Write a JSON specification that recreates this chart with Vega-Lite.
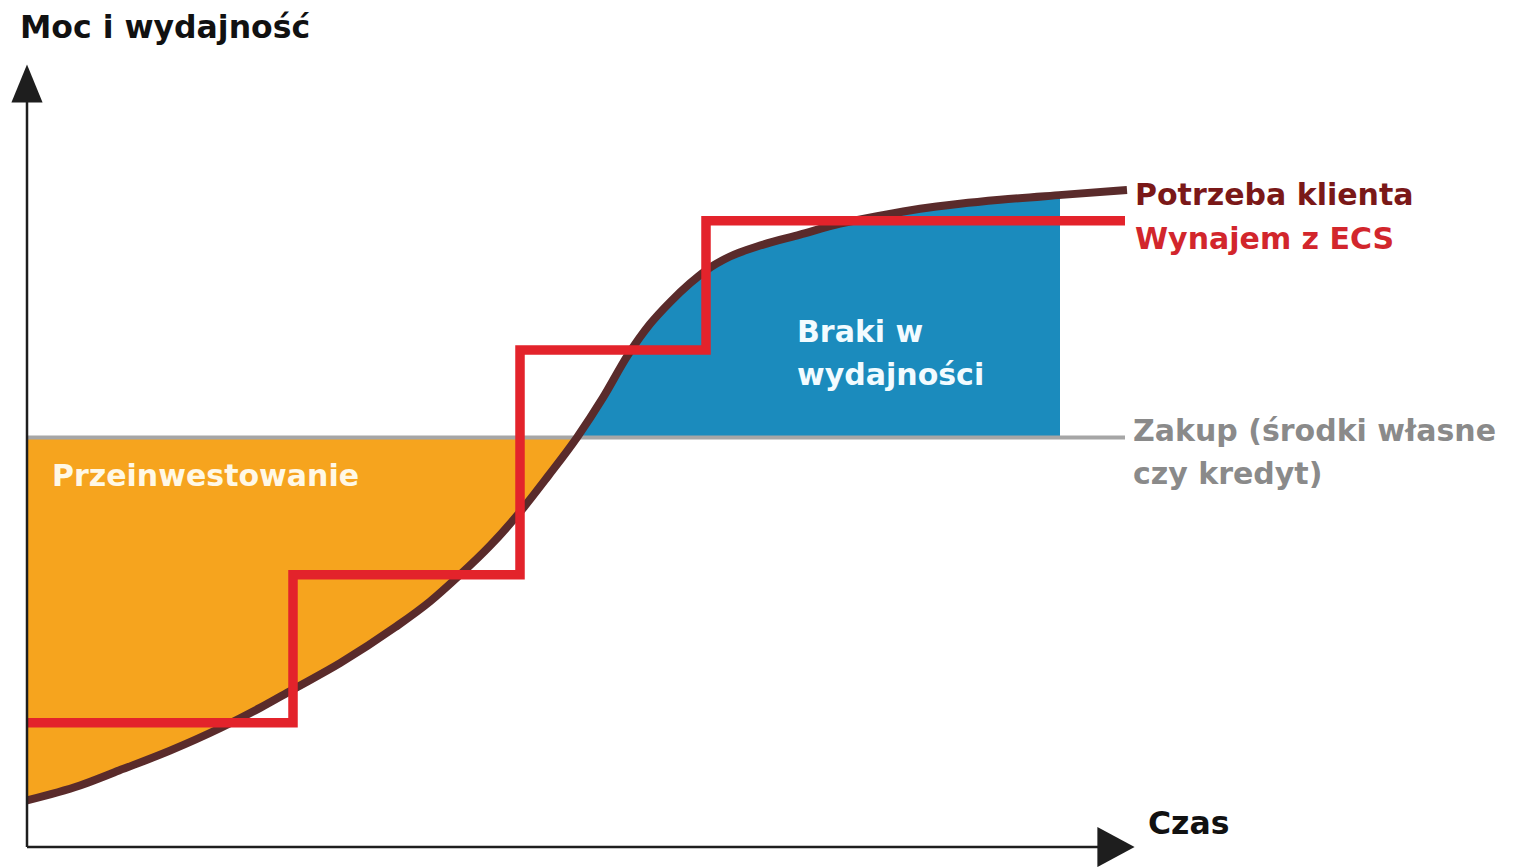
{
  "$schema": "https://vega.github.io/schema/vega-lite/v6.json",
  "width": 1520,
  "height": 867,
  "autosize": {"type": "fit", "contains": "padding"},
  "padding": 0,
  "background": "#ffffff",
  "view": {"stroke": null},
  "config": {
    "text": {"font": "DejaVu Sans", "fontWeight": "bold", "fontSize": 30, "align": "left", "baseline": "middle"}
  },
  "datasets": {
    "need": [
      {"x": 27, "v": 62}, {"x": 80, "v": 77}, {"x": 119, "v": 92}, {"x": 170, "v": 112},
      {"x": 221, "v": 135}, {"x": 260, "v": 155}, {"x": 292, "v": 173}, {"x": 340, "v": 200},
      {"x": 395, "v": 236}, {"x": 430, "v": 262}, {"x": 458, "v": 287}, {"x": 490, "v": 318},
      {"x": 520, "v": 352}, {"x": 548, "v": 388}, {"x": 577, "v": 427}, {"x": 603, "v": 467},
      {"x": 628, "v": 510}, {"x": 650, "v": 541}, {"x": 670, "v": 563}, {"x": 690, "v": 582},
      {"x": 706, "v": 595}, {"x": 730, "v": 609}, {"x": 760, "v": 620}, {"x": 800, "v": 631},
      {"x": 840, "v": 642}, {"x": 880, "v": 650}, {"x": 920, "v": 657}, {"x": 960, "v": 662},
      {"x": 1000, "v": 666}, {"x": 1062, "v": 671}, {"x": 1127, "v": 676}
    ],
    "over": [
      {"x": 27, "v": 62}, {"x": 80, "v": 77}, {"x": 119, "v": 92}, {"x": 170, "v": 112},
      {"x": 221, "v": 135}, {"x": 260, "v": 155}, {"x": 292, "v": 173}, {"x": 340, "v": 200},
      {"x": 395, "v": 236}, {"x": 430, "v": 262}, {"x": 458, "v": 287}, {"x": 490, "v": 318},
      {"x": 520, "v": 352}, {"x": 548, "v": 388}, {"x": 577, "v": 427}
    ],
    "short": [
      {"x": 577, "v": 427}, {"x": 603, "v": 467}, {"x": 628, "v": 510}, {"x": 650, "v": 541},
      {"x": 670, "v": 563}, {"x": 690, "v": 582}, {"x": 706, "v": 595}, {"x": 730, "v": 609},
      {"x": 760, "v": 620}, {"x": 800, "v": 631}, {"x": 840, "v": 642}, {"x": 880, "v": 650},
      {"x": 920, "v": 657}, {"x": 960, "v": 662}, {"x": 1000, "v": 666}, {"x": 1060, "v": 671}
    ],
    "rent": [
      {"i": 1, "x": 27, "v": 140}, {"i": 2, "x": 293, "v": 140}, {"i": 3, "x": 293, "v": 289},
      {"i": 4, "x": 520, "v": 289}, {"i": 5, "x": 520, "v": 515}, {"i": 6, "x": 706, "v": 515},
      {"i": 7, "x": 706, "v": 645}, {"i": 8, "x": 1125, "v": 645}
    ],
    "axisTitles": [
      {"text": "Moc i wydajność", "grp": "axis", "x": 20, "v": 838},
      {"text": "Czas", "grp": "axis", "x": 1148, "v": 37}
    ],
    "labels": [
      {"text": "Potrzeba klienta", "grp": "need", "x": 1135, "v": 670},
      {"text": "Wynajem z ECS", "grp": "rent", "x": 1135, "v": 626},
      {"text": "Zakup (środki własne", "grp": "buy", "x": 1133, "v": 432},
      {"text": "czy kredyt)", "grp": "buy", "x": 1133, "v": 389},
      {"text": "Przeinwestowanie", "grp": "over", "x": 52, "v": 387},
      {"text": "Braki w", "grp": "short", "x": 797, "v": 532},
      {"text": "wydajności", "grp": "short", "x": 797, "v": 489}
    ]
  },
  "layer": [
    {"data": {"name": "over"}, "mark": {"type": "area", "color": "#f6a41e", "opacity": 1, "interpolate": "monotone"},
     "encoding": {
       "x": {"field": "x", "type": "quantitative", "scale": {"domain": [0, 1520], "nice": false, "zero": false}, "axis": null},
       "y": {"field": "v", "type": "quantitative", "scale": {"domain": [4, 867], "nice": false, "zero": false}, "axis": null},
       "y2": {"datum": 427}}},
    {"data": {"name": "short"}, "mark": {"type": "area", "color": "#1b8bbd", "opacity": 1, "interpolate": "monotone"},
     "encoding": {
       "x": {"field": "x", "type": "quantitative"},
       "y": {"field": "v", "type": "quantitative"},
       "y2": {"datum": 427}}},
    {"data": {"values": [{"x": 27, "x2": 1125, "v": 427}]}, "mark": {"type": "rule", "color": "#a6a6a6", "strokeWidth": 4},
     "encoding": {"x": {"field": "x", "type": "quantitative"}, "x2": {"field": "x2"}, "y": {"field": "v", "type": "quantitative"}}},
    {"data": {"name": "need"}, "mark": {"type": "line", "color": "#5a2b2b", "strokeWidth": 8, "interpolate": "monotone"},
     "encoding": {"x": {"field": "x", "type": "quantitative"}, "y": {"field": "v", "type": "quantitative"}}},
    {"data": {"name": "rent"}, "mark": {"type": "line", "color": "#e3232b", "strokeWidth": 9.5, "strokeJoin": "miter"},
     "encoding": {"x": {"field": "x", "type": "quantitative"}, "y": {"field": "v", "type": "quantitative"}, "order": {"field": "i", "type": "quantitative"}}},
    {"data": {"values": [{"x": 27, "v": 15, "v2": 770}]}, "mark": {"type": "rule", "color": "#1e1e1e", "strokeWidth": 2.5},
     "encoding": {"x": {"field": "x", "type": "quantitative"}, "y": {"field": "v", "type": "quantitative"}, "y2": {"field": "v2"}}},
    {"data": {"values": [{"x": 27, "x2": 1100, "v": 15}]}, "mark": {"type": "rule", "color": "#1e1e1e", "strokeWidth": 2.5},
     "encoding": {"x": {"field": "x", "type": "quantitative"}, "x2": {"field": "x2"}, "y": {"field": "v", "type": "quantitative"}}},
    {"data": {"values": [{"x": 27, "v": 783}]}, "mark": {"type": "point", "shape": "M0,-1L0.82,1L-0.82,1Z", "size": 1444, "filled": true, "color": "#1e1e1e", "opacity": 1, "strokeWidth": 0},
     "encoding": {"x": {"field": "x", "type": "quantitative"}, "y": {"field": "v", "type": "quantitative"}}},
    {"data": {"values": [{"x": 1116, "v": 15}]}, "mark": {"type": "point", "shape": "M0.93,0L-0.93,-1L-0.93,1Z", "size": 1600, "filled": true, "color": "#1e1e1e", "opacity": 1, "strokeWidth": 0},
     "encoding": {"x": {"field": "x", "type": "quantitative"}, "y": {"field": "v", "type": "quantitative"}}},
    {"data": {"name": "axisTitles"}, "mark": {"type": "text", "fontSize": 31.5},
     "encoding": {"x": {"field": "x", "type": "quantitative"}, "y": {"field": "v", "type": "quantitative"}, "text": {"field": "text"},
       "color": {"field": "grp", "type": "nominal", "scale": {"domain": ["axis", "need", "rent", "buy", "over", "short"], "range": ["#111111", "#7a1818", "#d2262c", "#8a8a8a", "#fff8e6", "#f2fbff"]}, "legend": null}}},
    {"data": {"name": "labels"}, "mark": {"type": "text"},
     "encoding": {"x": {"field": "x", "type": "quantitative"}, "y": {"field": "v", "type": "quantitative"}, "text": {"field": "text"},
       "color": {"field": "grp", "type": "nominal", "legend": null}}}
  ]
}
